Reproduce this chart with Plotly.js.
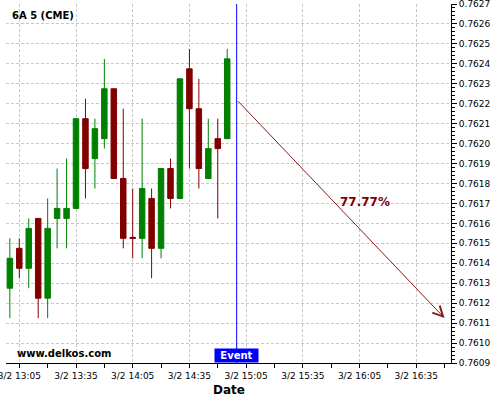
<!DOCTYPE html>
<html>
<head>
<meta charset="utf-8">
<script src="https://cdn.plot.ly/plotly-3.0.1.min.js"></script>
<style>html,body{margin:0;padding:0;background:#fff;}#chart{width:500px;height:400px;}</style>
</head>
<body>
<div id="chart"></div>
<script>
// Data (5-minute candles, 6A futures, 3/2)
const day = '2024-03-02';
const times = ['13:00','13:05','13:10','13:15','13:20','13:25','13:30','13:35','13:40','13:45','13:50','13:55',
               '14:00','14:05','14:10','14:15','14:20','14:25','14:30','14:35','14:40','14:45','14:50','14:55'];
const open  = [0.761275,0.761475,0.761375,0.761625,0.761225,0.761625,0.761625,0.761675,0.762125,0.761925,0.762025,0.762275,
               0.761825,0.761530,0.761525,0.761725,0.761475,0.761875,0.761725,0.762375,0.762175,0.761825,0.762025,0.762025];
const high  = [0.761525,0.761525,0.761625,0.761625,0.761725,0.761875,0.761925,0.762125,0.762225,0.762125,0.762425,0.762275,
               0.762175,0.761775,0.762125,0.761775,0.761875,0.761925,0.762325,0.762475,0.762325,0.762125,0.762125,0.762475];
const low   = [0.761125,0.761325,0.761275,0.761125,0.761125,0.761475,0.761475,0.761675,0.761725,0.761775,0.761975,0.761825,
               0.761475,0.761425,0.761425,0.761325,0.761425,0.761675,0.761725,0.761875,0.761775,0.761825,0.761625,0.762025];
const close = [0.761425,0.761375,0.761575,0.761225,0.761575,0.761675,0.761675,0.762125,0.761875,0.762075,0.762275,0.761825,
               0.761525,0.761525,0.761775,0.761475,0.761875,0.761725,0.762325,0.762175,0.761875,0.761975,0.761975,0.762425];

const eventTime = '15:00';
const arrowStart = {time: '15:00', price: 0.76222};
const arrowEnd = {time: '16:50', price: 0.761125};
const probabilityLabel = '77.77%';
const labelPos = {time: '16:08', price: 0.761707};
const symbolLabel = '6A 5 (CME)';
const siteLabel = 'www.delkos.com';
const xRange = ['12:57:58', '16:53:24'];
const yRange = [0.7609, 0.7627];
const minorTickTimes = ['13:05','13:20','13:35','13:50','14:05','14:20','14:35','14:50','15:05','15:20','15:35','15:50','16:05','16:20','16:35','16:50'];

const t = s => day + ' ' + s;
const RED = '#800000', GREEN = '#008000';
const FONT = 'DejaVu Sans, Verdana, sans-serif';
const grid = '#c8c8c8';

const trace = {
  type: 'candlestick',
  x: times.map(t), open: open, high: high, low: low, close: close,
  increasing: {line: {color: GREEN, width: 1}, fillcolor: GREEN},
  decreasing: {line: {color: RED, width: 1}, fillcolor: RED},
  whiskerwidth: 0,
  hoverinfo: 'skip',
  showlegend: false
};

const layout = {
  width: 500, height: 400,
  margin: {l: 6, r: 49, t: 4, b: 37, pad: 0},
  paper_bgcolor: '#ffffff', plot_bgcolor: '#ffffff',
  font: {family: FONT, size: 9, color: '#000'},
  showlegend: false,
  boxgap: 0.42, boxgroupgap: 0,
  xaxis: {
    type: 'date', range: xRange.map(t), autorange: false,
    rangeslider: {visible: false},
    tick0: t('13:05'), dtick: 1800000, tickformat: '%-m/%-d %H:%M',
    ticklabeloverflow: 'allow',
    ticks: 'outside', ticklen: 4, tickcolor: '#000', tickwidth: 1,
    tickfont: {family: FONT, size: 9, color: '#000'},
    showline: true, linecolor: '#000', linewidth: 1,
    showgrid: true, gridcolor: grid, griddash: '3px,2px', gridwidth: 1,
    zeroline: false,
    minor: {tickmode: 'array', tickvals: minorTickTimes.map(t), ticks: 'outside', ticklen: 4, tickcolor: '#000', showgrid: false},
    fixedrange: true
  },
  yaxis: {
    side: 'right', range: yRange, autorange: false,
    dtick: 0.0001, tick0: 0.7609, tickformat: '.4f',
    ticklabeloverflow: 'allow',
    ticks: 'outside', ticklen: 5, tickcolor: '#000', tickwidth: 1,
    tickfont: {family: FONT, size: 9, color: '#000'},
    showline: true, linecolor: '#000', linewidth: 1,
    showgrid: true, gridcolor: grid, griddash: '3px,2px', gridwidth: 1,
    zeroline: false,
    minor: {dtick: 0.00002, ticks: 'outside', ticklen: 3, tickcolor: '#000', showgrid: false},
    fixedrange: true
  },
  shapes: [
    {type: 'line', xref: 'x', yref: 'paper', x0: t(eventTime), x1: t(eventTime), y0: 0, y1: 1,
     line: {color: '#0000ff', width: 1}}
  ],
  annotations: [
    {xref: 'x', yref: 'y', x: t(arrowEnd.time), y: arrowEnd.price,
     axref: 'x', ayref: 'y', ax: t(arrowStart.time), ay: arrowStart.price,
     text: '', showarrow: true, arrowhead: 5, arrowsize: 2, arrowwidth: 1, arrowcolor: '#8b1a1a'},
    {xref: 'x', yref: 'y', x: t(labelPos.time), y: labelPos.price, text: '<b>' + probabilityLabel + '</b>',
     showarrow: false, font: {family: FONT, size: 12, color: RED}, xanchor: 'center', yanchor: 'middle'},
    {xref: 'x', yref: 'paper', x: t(eventTime), y: 0, yanchor: 'bottom', xanchor: 'center',
     text: '<b>Event</b>', showarrow: false, bgcolor: '#0000ff', borderpad: 0, width: 43, height: 13,
     font: {family: FONT, size: 10, color: '#ffffff'}},
    {xref: 'paper', yref: 'paper', x: 0.009, y: 0.9667, xanchor: 'left', yanchor: 'middle',
     text: '<b>' + symbolLabel + '</b>', showarrow: false, font: {family: FONT, size: 10, color: '#000'}},
    {xref: 'paper', yref: 'paper', x: 0.02, y: 0.026, xanchor: 'left', yanchor: 'middle',
     text: '<b>' + siteLabel + '</b>', showarrow: false, font: {family: FONT, size: 10, color: '#000'}},
    {xref: 'paper', yref: 'paper', x: 0.5, y: -0.075, xanchor: 'center', yanchor: 'middle',
     text: '<b>Date</b>', showarrow: false, font: {family: FONT, size: 12, color: '#000'}}
  ]
};

Plotly.newPlot('chart', [trace], layout, {displayModeBar: false, staticPlot: true});
</script>
</body>
</html>
